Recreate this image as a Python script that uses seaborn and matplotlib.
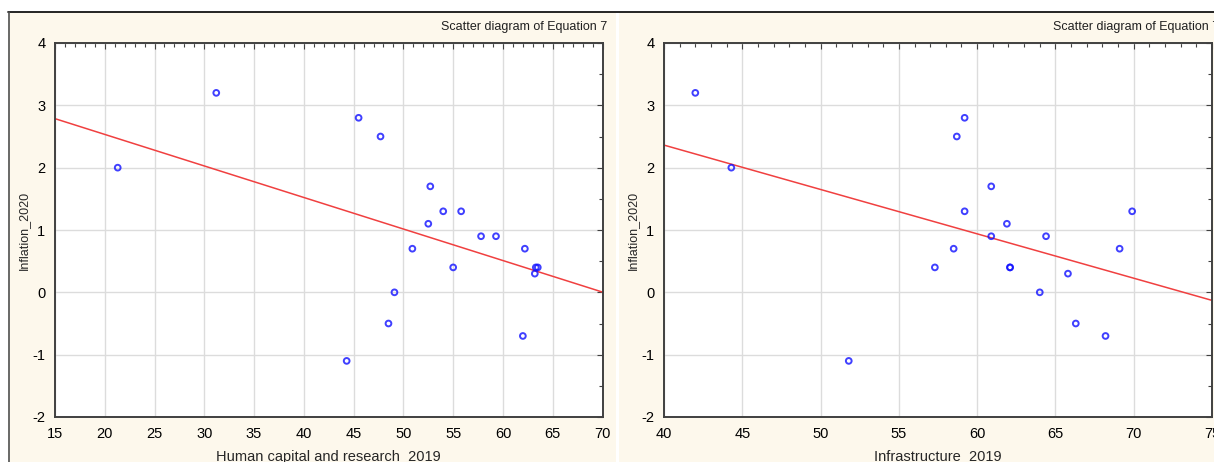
import pandas as pd
import seaborn as sns
import matplotlib.pyplot as plt
from matplotlib.lines import Line2D
from matplotlib.patches import Rectangle
from matplotlib.ticker import MultipleLocator

# values, one entry per country
inflation_2020 = [3.2, 2.8, 2.5, 2.0, 1.7, 1.3, 1.3, 1.1, 0.9, 0.9,
                  0.7, 0.7, 0.4, 0.4, 0.4, 0.3, 0.0, -0.5, -0.7, -1.1]
human_capital_2019 = [31.2, 45.5, 47.7, 21.3, 52.7, 54.0, 55.8, 52.5, 57.8, 59.3,
                      50.9, 62.2, 55.0, 63.3, 63.5, 63.2, 49.1, 48.5, 62.0, 44.3]
infrastructure_2019 = [42.0, 59.2, 58.7, 44.3, 60.9, 59.2, 69.9, 61.9, 60.9, 64.4,
                       58.5, 69.1, 57.3, 62.1, 62.1, 65.8, 64.0, 66.3, 68.2, 51.8]

panel_titles = ['Scatter diagram of Equation 7', 'Scatter diagram of Equation 7']
x_labels = ['Human capital and research  2019', 'Infrastructure  2019']
y_label = 'Inflation_2020'

CREAM = '#FDF8EC'
SPINE = '#404040'

df = pd.DataFrame({
    'inflation': inflation_2020,
    'human_capital': human_capital_2019,
    'infrastructure': infrastructure_2019,
})

sns.set_style('white')
plt.rcParams['font.family'] = ['Liberation Sans', 'DejaVu Sans']
plt.rcParams['axes.unicode_minus'] = False

W, H = 1214, 462
fig = plt.figure(figsize=(W / 100, H / 100), dpi=100, facecolor=CREAM)

# window chrome: white strip on top and left, black frame line, white gap between panels
fig.patches.append(Rectangle((0, (H - 12) / H), 1, 12 / H, transform=fig.transFigure,
                             facecolor='white', edgecolor='none', zorder=0))
fig.patches.append(Rectangle((0, 0), 8 / W, 1, transform=fig.transFigure,
                             facecolor='white', edgecolor='none', zorder=0))
fig.patches.append(Rectangle((616 / W, 0), 2.5 / W, (H - 12) / H, transform=fig.transFigure,
                             facecolor='white', edgecolor='none', zorder=0))
fig.lines.append(Line2D([8 / W, 1], [(H - 12) / H] * 2, transform=fig.transFigure,
                        color='black', lw=1.2))
fig.lines.append(Line2D([8.5 / W] * 2, [0, (H - 12) / H], transform=fig.transFigure,
                        color='#505050', lw=1.2))

panels = [
    ('human_capital', (15, 70), 55, 602.5, 607),
    ('infrastructure', (40, 75), 664, 1212, 1219),
]

for i, (xcol, xlim, left_px, right_px, title_px) in enumerate(panels):
    ax = fig.add_axes([left_px / W, (H - 417) / H, (right_px - left_px) / W, (417 - 43) / H])
    ax.set_facecolor('white')
    ax.set_xlim(*xlim)
    ax.set_ylim(-2, 4)

    sns.regplot(data=df, x=xcol, y='inflation', ax=ax, ci=None, truncate=False,
                color='blue',
                scatter_kws=dict(s=17, facecolors='none', edgecolors='#1010FF',
                                 linewidths=1.4, zorder=3),
                line_kws=dict(color='#F04040', lw=1.1, zorder=2))

    ax.xaxis.set_major_locator(MultipleLocator(5))
    ax.xaxis.set_minor_locator(MultipleLocator(1))
    ax.yaxis.set_major_locator(MultipleLocator(1))
    ax.yaxis.set_minor_locator(MultipleLocator(0.5))
    ax.grid(True, which='major', color='#DCDCDC', lw=1.0)
    ax.set_axisbelow(True)
    ax.tick_params(which='both', direction='in', top=True, right=True,
                   colors=SPINE, labelcolor='black', labelsize=10.5)
    ax.tick_params(which='major', length=4, width=0.8, pad=7)
    ax.tick_params(which='minor', length=3, width=0.8)
    for sp in ax.spines.values():
        sp.set_color(SPINE)
        sp.set_linewidth(1.4)
        sp.set_visible(True)

    ax.set_xlabel(x_labels[i], fontsize=10.5)
    ax.xaxis.set_label_coords(0.5, -0.088)
    ax.set_ylabel(y_label, fontsize=9)
    ax.yaxis.set_label_coords(-0.045, 0.5)

    fig.text(title_px / W, (H - 27) / H, panel_titles[i], ha='right', va='center',
             fontsize=9, color='#202020')

fig.savefig('out.png', dpi=100, facecolor=CREAM)
